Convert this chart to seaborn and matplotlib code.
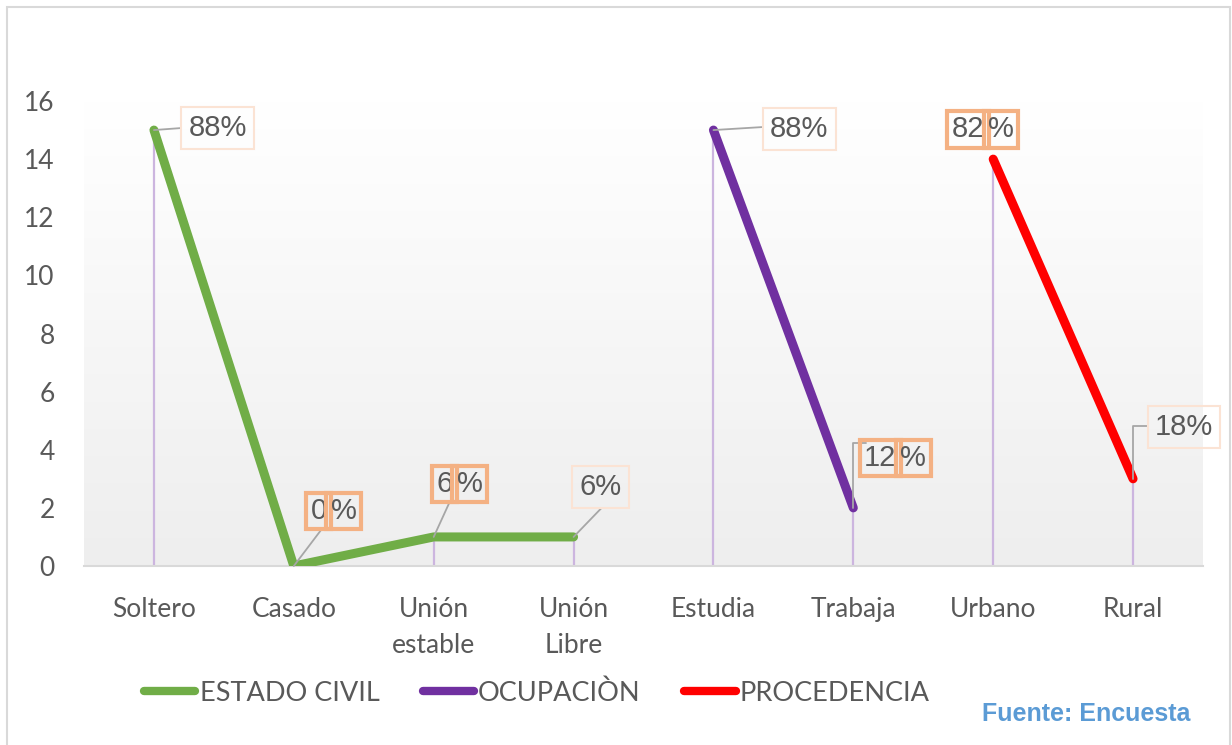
import numpy as np
import pandas as pd
import matplotlib
matplotlib.use("Agg")
import matplotlib.pyplot as plt
from matplotlib.lines import Line2D
from matplotlib.patches import Rectangle
from matplotlib.colors import LinearSegmentedColormap
import seaborn as sns

# ---------------- data ----------------
categories = ["Soltero", "Casado", "Unión\nestable", "Unión\nLibre",
              "Estudia", "Trabaja", "Urbano", "Rural"]
estado_civil_cats = ["Soltero", "Casado", "Unión\nestable", "Unión\nLibre"]
estado_civil_vals = [15, 0, 1, 1]
estado_civil_pct = ["88%", "0%", "6%", "6%"]
ocupacion_cats = ["Estudia", "Trabaja"]
ocupacion_vals = [15, 2]
ocupacion_pct = ["88%", "12%"]
procedencia_cats = ["Urbano", "Rural"]
procedencia_vals = [14, 3]
procedencia_pct = ["82%", "18%"]
series_names = ["ESTADO CIVIL", "OCUPACIÒN", "PROCEDENCIA"]
y_ticks = [0, 2, 4, 6, 8, 10, 12, 14, 16]
source_text = "Fuente: Encuesta"

colors = {"ESTADO CIVIL": "#70ad47", "OCUPACIÒN": "#7030a0", "PROCEDENCIA": "#ff0000"}

rows = []
for name, cats, vals, pcts in [
    (series_names[0], estado_civil_cats, estado_civil_vals, estado_civil_pct),
    (series_names[1], ocupacion_cats, ocupacion_vals, ocupacion_pct),
    (series_names[2], procedencia_cats, procedencia_vals, procedencia_pct),
]:
    for c, v, p in zip(cats, vals, pcts):
        rows.append({"serie": name, "categoria": c, "pos": categories.index(c),
                     "valor": v, "pct": p})
df = pd.DataFrame(rows)

# ---------------- figure ----------------
sns.set_style("white")
plt.rcParams["font.family"] = ["Lato", "DejaVu Sans"]
W, H = 1232, 745
fig = plt.figure(figsize=(W / 100, H / 100), dpi=100)

def px(x, y):
    return x / W, 1 - y / H

left, right, top, bottom = 84, 1203, 101, 566
ax = fig.add_axes([left / W, 1 - bottom / H, (right - left) / W, (bottom - top) / H])

# gradient background (white at top, light grey at bottom)
grad = np.linspace(0, 1, 256).reshape(-1, 1)
cmap = LinearSegmentedColormap.from_list("bg", ["#ffffff", "#eeeeee"])
ax.imshow(grad, cmap=cmap, aspect="auto", extent=(0, 1, 0, 1), origin="upper",
          transform=ax.transAxes, zorder=0)

# drop lines
ax.vlines(df["pos"], 0, df["valor"], color="#ccb5df", lw=1.6, zorder=1)

sns.lineplot(data=df, x="pos", y="valor", hue="serie", palette=colors,
             linewidth=6.5, legend=False, sort=False, ax=ax, zorder=3)
for ln in ax.lines:
    ln.set_solid_capstyle("round")
    ln.set_solid_joinstyle("round")

ax.set_xlim(-0.5, len(categories) - 0.5)
ax.set_ylim(0, 16)
ax.set_xticks(range(len(categories)))
ax.set_xticklabels(categories, linespacing=1.55)
ax.set_yticks(y_ticks)
ax.tick_params(axis="x", length=0, pad=22, labelsize=19, labelcolor="#595959")
ax.tick_params(axis="y", length=0, pad=21, labelsize=19, labelcolor="#595959")
for s in ["top", "right", "left"]:
    ax.spines[s].set_visible(False)
ax.spines["bottom"].set_color("#d9d9d9")
ax.spines["bottom"].set_linewidth(1.5)
ax.spines["bottom"].set_zorder(2)
ax.set_xlabel("")
ax.set_ylabel("")

# ---------------- data labels ----------------
lab_font = dict(family=["Liberation Sans", "DejaVu Sans"], fontsize=21, color="#595959")
thin_box = dict(boxstyle="square,pad=0.25", fc="none", ec="#fbe3d4", lw=1.5)
thick_ec = "#f4b183"
leader = dict(arrowstyle="-", color="#a6a6a6", lw=1.3, shrinkA=0, shrinkB=0)

# per-label layout in pixels: (label center offset, leader end offset, split?, elbow?)
layout = {
    ("ESTADO CIVIL", "Soltero"): ((64, 2), (27, 2), False, False),
    ("ESTADO CIVIL", "Casado"): ((37, 55), (28, 37), True, False),
    ("ESTADO CIVIL", "Unión\nestable"): ((23, 53), (16, 35), True, False),
    ("ESTADO CIVIL", "Unión\nLibre"): ((27, 50), (28, 29), False, False),
    ("OCUPACIÒN", "Estudia"): ((86, 1), (49, 3), False, False),
    ("OCUPACIÒN", "Trabaja"): ((55, 50), (13, 65), True, True),
    ("PROCEDENCIA", "Urbano"): ((3, 30), None, True, False),
    ("PROCEDENCIA", "Rural"): ((51, 52), (15, 53), False, True),
}

for _, r in df.iterrows():
    (dx, dy), lead, split, elbow = layout[(r["serie"], r["categoria"])]
    xy = (r["pos"], r["valor"])
    if lead is not None:
        props = dict(leader)
        if elbow:
            props["connectionstyle"] = "angle,angleA=0,angleB=90,rad=0"
        ax.annotate("", xy=xy, xytext=lead, textcoords="offset pixels",
                    arrowprops=props, zorder=4, annotation_clip=False)
    txt = r["pct"]
    if not split:
        ax.annotate(txt, xy=xy, xytext=(dx, dy), textcoords="offset pixels",
                    ha="center", va="center", bbox=thin_box, zorder=5,
                    annotation_clip=False, **lab_font)
    else:
        a, b = txt[:-1], txt[-1]
        shift = 8 if len(a) == 1 else 0
        box = dict(boxstyle="square,pad=0.15", fc="none", ec=thick_ec, lw=3)
        ax.annotate(a, xy=xy, xytext=(dx - 4 + shift - 8, dy), textcoords="offset pixels",
                    ha="right", va="center", bbox=box, zorder=5,
                    annotation_clip=False, **lab_font)
        ax.annotate(b, xy=xy, xytext=(dx + shift - 8, dy), textcoords="offset pixels",
                    ha="left", va="center", bbox=box, zorder=5,
                    annotation_clip=False, **lab_font)

# ---------------- legend ----------------
handles = [Line2D([0], [0], color=colors[n], lw=6, solid_capstyle="round")
           for n in series_names]
fig.legend(handles, series_names, loc="center left",
           bbox_to_anchor=px(144, 693), ncol=3, frameon=False,
           handlelength=1.9, handletextpad=0.15, columnspacing=1.6,
           borderpad=0, borderaxespad=0,
           prop=dict(family="Lato", size=19.5), labelcolor="#595959")

fig.text(*px(1190, 714), source_text, ha="right", va="center",
         fontsize=18, fontweight="bold", color="#5b9bd5",
         family=["Liberation Sans", "DejaVu Sans"])

# outer frame
fig.patches.append(Rectangle(px(7, 760), (1230 - 7) / W, (760 - 7) / H,
                             transform=fig.transFigure, fill=False,
                             ec="#d9d9d9", lw=1.5))

fig.savefig("out.png", dpi=100)
